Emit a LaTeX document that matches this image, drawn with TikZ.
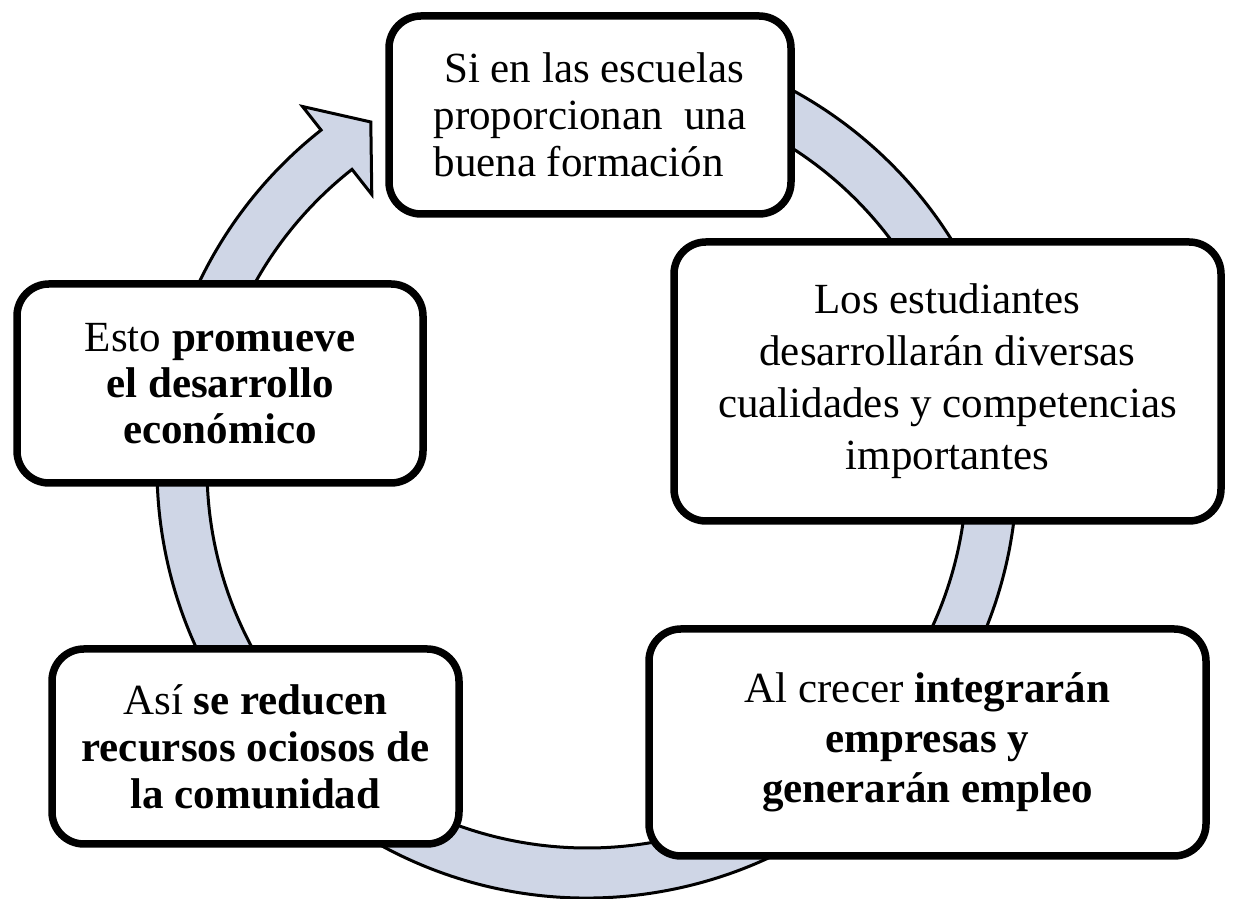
\documentclass[tikz,border=0pt]{standalone}
\usepackage{fontspec}
\setmainfont{Liberation Serif}
\usepackage{tikz}

\definecolor{ringblue}{RGB}{207,214,230}
\tikzset{caja/.style={draw=black, fill=white, line width=3.75pt, rounded corners=16pt,
    align=center, inner sep=0pt, font=\fontsize{21.5}{23.5}\selectfont}}

\begin{document}
\begin{tikzpicture}[x=0.5pt,y=0.5pt]
   \useasboundingbox (0,0) rectangle (1233,899);

   % flecha circular (detras de las cajas)
   \begin{scope}[shift={(587,431)}]
   \draw[fill=ringblue, line width=1.5pt, line join=miter]
      (100:430) arc[start angle=100, end angle=-231.8, radius=430]
      -- (128.2:460) -- (122.0:408) -- (128.2:348)
      -- (128.2:380) arc[start angle=-231.8, end angle=100, radius=380] -- cycle;
   \end{scope}

   % cajas
   \node[caja, align=left, minimum width=201pt, minimum height=99pt] (escuelas) at (590,784)
      {\ Si en las escuelas\\ proporcionan\ \ una\\ buena formación};
   \node[caja, minimum width=273.5pt, minimum height=139.5pt, font=\fontsize{21.5}{26}\selectfont] (estudiantes) at (947.5,517.5)
      {Los estudiantes\\ desarrollarán diversas\\ cualidades y competencias\\ importantes};
   \node[caja, minimum width=278.5pt, minimum height=113.5pt, font=\fontsize{21.5}{25}\selectfont] (empleo) at (927.5,156.5)
      {Al crecer \textbf{integrarán}\\ \textbf{empresas y}\\ \textbf{generarán empleo}};
   \node[caja, minimum width=203.5pt, minimum height=97.5pt] (recursos) at (255.5,152.5)
      {Así \textbf{se reducen}\\ \textbf{recursos ociosos de}\\ \textbf{la comunidad}};
   \node[caja, minimum width=203pt, minimum height=99.5pt, font=\fontsize{21.5}{23}\selectfont] (desarrollo) at (220,515.5)
      {Esto \textbf{promueve}\\ \textbf{el desarrollo}\\ \textbf{económico}};
\end{tikzpicture}
\end{document}
